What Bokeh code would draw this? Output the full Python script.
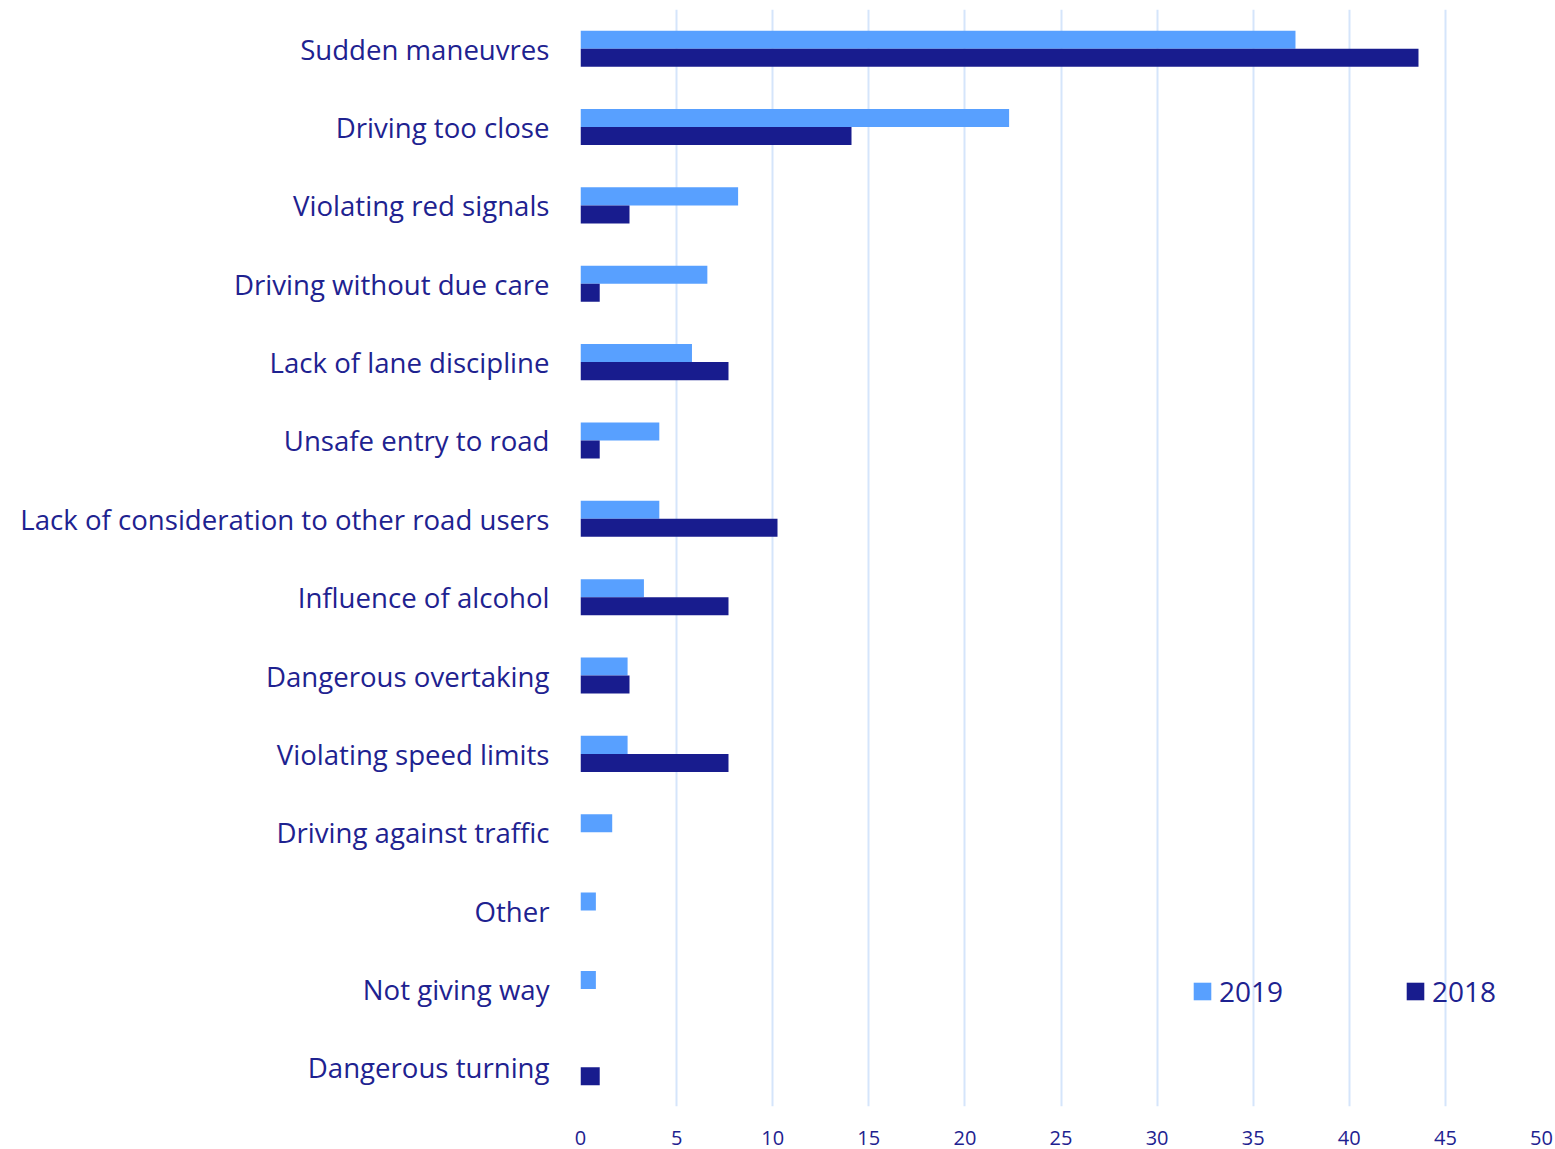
from bokeh.plotting import figure
from bokeh.models import ColumnDataSource, Legend, LegendItem, FactorRange, SingleIntervalTicker
from bokeh.transform import dodge
from bokeh.embed import file_html
from bokeh.resources import INLINE

categories = ["Sudden maneuvres", "Driving too close", "Violating red signals",
              "Driving without due care", "Lack of lane discipline", "Unsafe entry to road",
              "Lack of consideration to other road users", "Influence of alcohol",
              "Dangerous overtaking", "Violating speed limits", "Driving against traffic",
              "Other", "Not giving way", "Dangerous turning"]
v2019 = [37.2, 22.3, 8.2, 6.6, 5.8, 4.1, 4.1, 3.3, 2.45, 2.45, 1.65, 0.8, 0.8, 0.0]
v2018 = [43.6, 14.1, 2.55, 1.0, 7.7, 1.0, 10.25, 7.7, 2.55, 7.7, 0.0, 0.0, 0.0, 1.0]

C19 = "#58A0FF"
C18 = "#181C8E"
TXT = "#1E2290"
FONT = "Open Sans"

src = ColumnDataSource(dict(cat=categories, v19=v2019, v18=v2018))

p = figure(width=1555, height=1149, output_backend="svg", toolbar_location=None,
           y_range=FactorRange(*list(reversed(categories)), range_padding=0),
           x_range=(0, 50),
           min_border_left=580, min_border_right=14, min_border_top=9, min_border_bottom=43)

r19 = p.hbar(y=dodge("cat", 0.115, range=p.y_range), right="v19", left=0, height=0.23,
             source=src, fill_color=C19, line_color=None)
r18 = p.hbar(y=dodge("cat", -0.115, range=p.y_range), right="v18", left=0, height=0.23,
             source=src, fill_color=C18, line_color=None)

p.outline_line_color = None
p.ygrid.grid_line_color = None
p.xgrid.grid_line_color = "#D5E5FB"
p.xgrid.grid_line_width = 2
p.xaxis.ticker = SingleIntervalTicker(interval=5)

for ax in (p.xaxis[0], p.yaxis[0]):
    ax.axis_line_color = None
    ax.major_tick_line_color = None
    ax.minor_tick_line_color = None
    ax.major_label_text_color = TXT
    ax.major_label_text_font = FONT

p.yaxis.major_label_text_font_size = "27.6px"
p.yaxis.major_label_standoff = 25
p.xaxis.major_label_text_font_size = "20px"
p.xaxis.major_label_standoff = 18

def mk_legend(label, r, x):
    lg = Legend(items=[LegendItem(label=label, renderers=[r])], location=(x, 96),
                orientation="horizontal", border_line_alpha=0, background_fill_alpha=0,
                padding=0, margin=0, glyph_width=22, glyph_height=22, label_standoff=6,
                label_text_font=FONT, label_text_font_size="28px", label_text_color=TXT,
                label_height=22)
    p.add_layout(lg, "center")

mk_legend("2019", r19, 611)
mk_legend("2018", r18, 824)

open("out.html", "w").write(file_html(p, INLINE))
